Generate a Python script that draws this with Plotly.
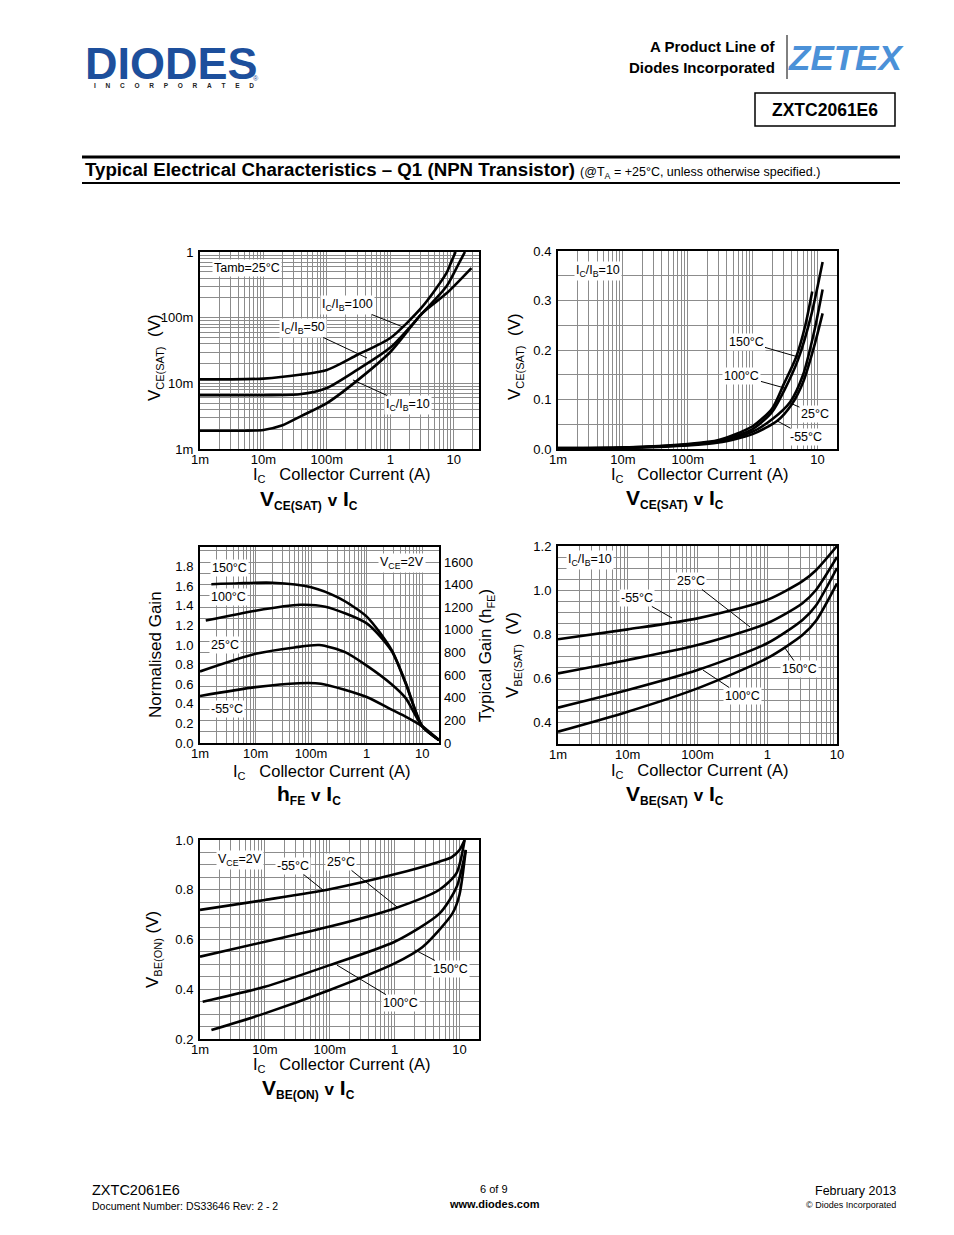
import plotly.graph_objects as go
import numpy as np

# page is drawn inside the default 8px body margin of the html page
OFF = 8
W, H = 954 - OFF, 1235 - OFF
def px(x): return (x - OFF) / W
def py(y): return 1 - (y - OFF) / H

# ---------------- DATA ----------------
# Chart 1: VCE(SAT) v IC, Tamb=25C (log-log)
c1_ic_100 = [0.001, 0.003, 0.01, 0.037, 0.1, 0.3, 1.0, 3.2, 7.7, 9.2, 10.7]
c1_v_100 = [0.0115, 0.0115, 0.0118, 0.0135, 0.016, 0.027, 0.049, 0.147, 0.48, 0.72, 1.0]
c1_ic_50 = [0.001, 0.01, 0.037, 0.1, 0.3, 1.0, 3.2, 7.7, 12.4, 15.0]
c1_v_50 = [0.0066, 0.0066, 0.0068, 0.0085, 0.016, 0.035, 0.117, 0.30, 0.71, 1.0]
c1_ic_10 = [0.001, 0.005, 0.01, 0.02, 0.04, 0.1, 0.3, 1.0, 3.2, 7.7, 19.0]
c1_v_10 = [0.0019, 0.0019, 0.00195, 0.0023, 0.0032, 0.005, 0.011, 0.030, 0.117, 0.235, 0.57]

# Chart 2: VCE(SAT) v IC, IC/IB=10, by temperature
c2_ic_150 = [0.001, 0.01, 0.1, 0.3, 1.0, 2.0, 3.0, 4.7, 6.5, 8.3]
c2_v_150 = [0.002, 0.003, 0.010, 0.018, 0.046, 0.082, 0.13, 0.186, 0.25, 0.318]
c2_ic_100 = [0.001, 0.01, 0.1, 0.3, 1.0, 2.0, 3.2, 5.0, 8.0, 12.0]
c2_v_100 = [0.002, 0.003, 0.009, 0.016, 0.040, 0.075, 0.123, 0.18, 0.27, 0.378]
c2_ic_25 = [0.001, 0.01, 0.1, 0.3, 1.0, 2.0, 3.8, 6.0, 9.0, 12.0]
c2_v_25 = [0.0015, 0.0025, 0.008, 0.015, 0.035, 0.06, 0.095, 0.15, 0.24, 0.322]
c2_ic_m55 = [0.001, 0.01, 0.1, 0.3, 1.0, 2.4, 4.0, 6.0, 9.0, 12.0]
c2_v_m55 = [0.001, 0.002, 0.007, 0.013, 0.030, 0.057, 0.09, 0.135, 0.21, 0.274]

# Chart 3: hFE v IC (normalised gain), VCE=2V
c3_ic_150 = [0.0016, 0.005, 0.02, 0.1, 0.316, 1.0, 2.8, 5.0, 10.0, 20.0]
c3_g_150 = [1.62, 1.63, 1.635, 1.59, 1.48, 1.29, 0.95, 0.62, 0.17, 0.03]
c3_ic_100 = [0.00127, 0.01, 0.063, 0.18, 1.0, 2.8, 5.0, 10.0, 20.0]
c3_g_100 = [1.25, 1.35, 1.41, 1.39, 1.22, 0.94, 0.61, 0.17, 0.03]
c3_ic_25 = [0.001, 0.01, 0.05, 0.14, 0.4, 1.0, 2.8, 5.0, 10.0, 20.0]
c3_g_25 = [0.73, 0.91, 0.975, 1.0, 0.93, 0.79, 0.60, 0.46, 0.17, 0.03]
c3_ic_m55 = [0.001, 0.01, 0.06, 0.15, 1.0, 2.8, 5.0, 10.0, 20.0]
c3_g_m55 = [0.48, 0.57, 0.61, 0.605, 0.47, 0.34, 0.27, 0.17, 0.03]

# Chart 4: VBE(SAT) v IC, IC/IB=10
c4_ic = [0.001, 0.01, 0.1, 1.0, 3.2, 5.0, 10.0]
c4_v_m55 = [0.776, 0.821, 0.871, 0.955, 1.04, 1.09, 1.20]
c4_v_25 = [0.621, 0.682, 0.750, 0.849, 0.94, 1.00, 1.15]
c4_v_100 = [0.465, 0.545, 0.636, 0.758, 0.864, 0.93, 1.10]
c4_v_150 = [0.356, 0.447, 0.553, 0.690, 0.795, 0.86, 1.03]

# Chart 5: VBE(ON) v IC, VCE=2V
c5_ic_m55 = [0.001, 0.01, 0.1, 1.0, 4.9, 7.5, 10.0, 12.0]
c5_v_m55 = [0.719, 0.759, 0.802, 0.862, 0.913, 0.93, 0.96, 1.0]
c5_ic_25 = [0.001, 0.01, 0.1, 1.0, 4.9, 9.0, 12.0]
c5_v_25 = [0.531, 0.591, 0.652, 0.725, 0.80, 0.867, 1.0]
c5_ic_100 = [0.0011, 0.01, 0.1, 1.0, 4.9, 9.0, 12.5]
c5_v_100 = [0.35, 0.41, 0.497, 0.591, 0.704, 0.81, 0.96]
c5_ic_150 = [0.0015, 0.01, 0.1, 1.0, 2.7, 7.8, 10.0, 12.5]
c5_v_150 = [0.236, 0.303, 0.397, 0.504, 0.57, 0.705, 0.78, 0.96]

decade_names = {-3: '1m', -2: '10m', -1: '100m', 0: '1', 1: '10'}

# ---------------- STYLE ----------------
FONT = "Liberation Sans, Arial, sans-serif"
GRID = "#8c8c8c"
TICKF = dict(family=FONT, size=13, color='black')

fig = go.Figure()

def curve(xs, ys, n):
    sfx = '' if n == 1 else str(n)
    fig.add_trace(go.Scatter(x=xs, y=ys, mode='lines',
                             line=dict(color='black', width=2.6, shape='spline', smoothing=0.7),
                             xaxis='x' + sfx, yaxis='y' + sfx,
                             showlegend=False, hoverinfo='skip'))

curve(c1_ic_100, c1_v_100, 1); curve(c1_ic_50, c1_v_50, 1); curve(c1_ic_10, c1_v_10, 1)
curve(c2_ic_150, c2_v_150, 2); curve(c2_ic_100, c2_v_100, 2)
curve(c2_ic_25, c2_v_25, 2); curve(c2_ic_m55, c2_v_m55, 2)
curve(c3_ic_150, c3_g_150, 3); curve(c3_ic_100, c3_g_100, 3)
curve(c3_ic_25, c3_g_25, 3); curve(c3_ic_m55, c3_g_m55, 3)
curve(c4_ic, c4_v_m55, 4); curve(c4_ic, c4_v_25, 4)
curve(c4_ic, c4_v_100, 4); curve(c4_ic, c4_v_150, 4)
curve(c5_ic_m55, c5_v_m55, 5); curve(c5_ic_25, c5_v_25, 5)
curve(c5_ic_100, c5_v_100, 5); curve(c5_ic_150, c5_v_150, 5)

def log_ticks(lo_exp, hi_exp, hi_val):
    major, txt, minor = [], [], []
    for e in range(lo_exp, hi_exp + 1):
        for m in range(1, 10):
            v = m * 10.0 ** e
            if v > hi_val * 1.0001:
                break
            if m == 1:
                major.append(v); txt.append(decade_names[e])
            else:
                minor.append(v)
    return major, txt, minor

def lin_ticks(lo, hi, step, lab_step, fmt, lab_max=None):
    major, txt, minor = [], [], []
    for v in [round(v, 4) for v in np.arange(lo, hi + 1e-9, step)]:
        q = v / lab_step
        if abs(q - round(q)) < 1e-6 and (lab_max is None or v <= lab_max + 1e-9):
            major.append(v); txt.append(fmt.format(v))
        else:
            minor.append(v)
    return major, txt, minor

base = dict(showgrid=True, gridcolor=GRID, gridwidth=1, showline=True, mirror=True,
            linecolor='black', linewidth=2, ticks='', tickfont=TICKF, zeroline=False,
            fixedrange=True, automargin=False)

def grid_minor(vals, show=True):
    return dict(tickvals=vals, showgrid=show, gridcolor=GRID, gridwidth=1, ticks='')

def xax(l, r, hi, anchor):
    major, txt, minor = log_ticks(-3, 1, hi)
    d = dict(base)
    d.update(type='log', range=[-3, np.log10(hi)], domain=[px(l), px(r)], anchor=anchor,
             tickmode='array', tickvals=major, ticktext=txt, minor=grid_minor(minor),
             ticklabelstandoff=-3)
    return d

def yax_lin(t, b, lo, hi, step, lab_step, fmt, anchor, grid=True, lab_max=None):
    major, txt, minor = lin_ticks(lo, hi, step, lab_step, fmt, lab_max)
    d = dict(base)
    d.update(range=[lo, hi], domain=[py(b), py(t)], anchor=anchor, tickmode='array',
             tickvals=major, ticktext=txt, showgrid=grid, minor=grid_minor(minor, grid),
             ticklabelstandoff=2)
    return d

y1major, y1txt, y1minor = log_ticks(-3, 0, 1.0)
y1 = dict(base)
y1.update(type='log', range=[-3, 0], domain=[py(449), py(252)], anchor='x', tickmode='array',
          tickvals=y1major, ticktext=y1txt, minor=grid_minor(y1minor), ticklabelstandoff=2)

y6major, y6txt, y6minor = lin_ticks(0, 1700, 100, 200, '{:.0f}', lab_max=1600)
y6 = dict(overlaying='y3', side='right', anchor='x3', range=[0, 1733], tickmode='array',
          tickvals=y6major, ticktext=y6txt, showgrid=True, gridcolor=GRID, gridwidth=1,
          minor=grid_minor(y6minor), showline=False, ticks='', tickfont=TICKF,
          zeroline=False, fixedrange=True, automargin=False, ticklabelstandoff=4)

fig.update_layout(
    width=W, height=H, autosize=False,
    margin=dict(l=0, r=0, t=0, b=0, pad=0, autoexpand=False),
    paper_bgcolor='white', plot_bgcolor='white',
    xaxis=xax(200, 479, 25.0, 'y'),
    yaxis=y1,
    xaxis2=xax(558, 837, 20.0, 'y2'),
    yaxis2=yax_lin(251, 449, 0, 0.4, 0.05, 0.1, '{:.1f}', 'x2'),
    xaxis3=xax(200, 439, 20.0, 'y3'),
    yaxis3=yax_lin(547, 743, 0, 2.0, 0.2, 0.2, '{:.1f}', 'x3', grid=False, lab_max=1.8),
    xaxis4=xax(558, 837, 10.0, 'y4'),
    yaxis4=yax_lin(546, 744, 0.3, 1.2, 0.05, 0.2, '{:.1f}', 'x4'),
    xaxis5=xax(200, 479, 20.0, 'y5'),
    yaxis5=yax_lin(840, 1039, 0.2, 1.0, 0.05, 0.2, '{:.1f}', 'x5'),
    yaxis6=y6,
)

# trace so that the right-hand gain axis is drawn
fig.add_trace(go.Scatter(x=[None], y=[None], xaxis='x3', yaxis='y6', showlegend=False,
                         hoverinfo='skip'))

ann = []
def text(t, x, y, size=12, family=FONT, color='black', xanchor='center', yanchor='middle',
         angle=0, bg=None):
    a = dict(text=t, x=px(x), y=py(y), xref='paper', yref='paper', showarrow=False,
             font=dict(family=family, size=size, color=color), xanchor=xanchor,
             yanchor=yanchor, textangle=angle)
    if bg:
        a.update(bgcolor=bg, borderpad=1)
    ann.append(a)

def leader(t, n, x, y, ax, ay, size=12.5):
    sfx = '' if n == 1 else str(n)
    ann.append(dict(text=t, x=x, y=y, xref='x' + sfx, yref='y' + sfx, showarrow=True,
                    arrowhead=0, arrowwidth=1, arrowcolor='black', ax=ax, ay=ay,
                    bgcolor='white', borderpad=1, standoff=0,
                    font=dict(family=FONT, size=size, color='black')))

def sub(s, size):
    return '<sub><span style="font-size:%dpx">%s</span></sub>' % (size, s)

LS = 12.5
# Chart 1 labels
text('Tamb=25°C', 247, 268, LS, bg='white')
leader('I<sub>C</sub>/I<sub>B</sub>=100', 1, 0.199, -1.142, -55, -22)
leader('I<sub>C</sub>/I<sub>B</sub>=50', 1, -0.368, -1.614, -64, -30)
leader('I<sub>C</sub>/I<sub>B</sub>=10', 1, -0.589, -1.949, 55, 25)
# Chart 2 labels
text('I<sub>C</sub>/I<sub>B</sub>=10', 598, 271, LS, bg='white')
leader('150°C', 2, 0.70, 0.186, -52, -15)
leader('100°C', 2, 0.499, 0.123, -43, -12)
leader('25°C', 2, 0.576, 0.093, 25, 11)
leader('-55°C', 2, 0.376, 0.057, 29, 16)
# Chart 3 labels
text('150°C', 229, 568, LS, bg='white')
text('100°C', 228, 597, LS, bg='white')
text('25°C', 225, 645, LS, bg='white')
text('-55°C', 227, 709, LS, bg='white')
text('V<sub>CE</sub>=2V', 402, 563, LS, bg='white')
# Chart 4 labels
text('I<sub>C</sub>/I<sub>B</sub>=10', 590, 560, LS, bg='white')
leader('25°C', 4, -0.247, 0.832, -59, -46)
leader('-55°C', 4, -1.366, 0.873, -35, -20)
leader('100°C', 4, -0.921, 0.636, 39, 26)
leader('150°C', 4, 0.254, 0.736, 15, 21)
# Chart 5 labels
text('V<sub>CE</sub>=2V', 240, 860, LS, bg='white')
leader('-55°C', 5, -1.104, 0.799, -30, -24)
leader('25°C', 5, 0.037, 0.731, -56, -45)
leader('150°C', 5, 0.314, 0.558, 36, 19)
leader('100°C', 5, -0.888, 0.497, 63, 38)

# axis titles
AX = 16.5
text('V' + sub('CE(SAT)', 11) + '  (V)', 155, 358, 17, angle=-90)
text('V' + sub('CE(SAT)', 11) + '  (V)', 516, 357, 17, angle=-90)
text('Normalised Gain', 155, 655, 17, angle=-90)
text('Typical Gain (h' + sub('FE', 11) + ')', 486, 655, 17, angle=-90)
text('V' + sub('BE(SAT)', 11) + '  (V)', 513, 655, 17, angle=-90)
text('V' + sub('BE(ON)', 11) + ' (V)', 153, 950, 17, angle=-90)

xt = 'I' + sub('C', 11) + '   Collector Current (A)'
text(xt, 342, 475, AX)
text(xt, 700, 475, AX)
text(xt, 322, 772, AX)
text(xt, 700, 771, AX)
text(xt, 342, 1065, AX)

def ctitle(main, s, x, y):
    t = ('<b>' + main + sub(s, 12) + ' <span style="font-size:17px">v</span> '
         'I' + sub('C', 12) + '</b>')
    text(t, x, y, 21)
ctitle('V', 'CE(SAT)', 309, 500)
ctitle('V', 'CE(SAT)', 675, 499)
ctitle('h', 'FE', 309, 795)
ctitle('V', 'BE(SAT)', 675, 795)
ctitle('V', 'BE(ON)', 308, 1089)

# ---------------- header ----------------
BLUE = '#1d4f9c'
text('<b>DIODES</b>', 171, 63, 45, family="Liberation Sans, Arial, sans-serif", color=BLUE)
sp = '\u2003\u2002'
text('<b>' + sp.join('INCORPORATED') + '</b>', 92, 86, 6.5, color='#222222', xanchor='left')
text('®', 256, 78, 7, color=BLUE)

text('<b>A Product Line of</b>', 777, 47, 15, xanchor='right')
text('<b>Diodes Incorporated</b>', 777, 67, 15, xanchor='right')
text('<b><i>ZETEX</i></b>', 846, 57, 35, color='#4b91d8')
text('<b>ZXTC2061E6</b>', 825, 110, 17.5)

text('<b>Typical Electrical Characteristics – Q1 (NPN Transistor)</b> '
     '<span style="font-size:12.5px">(@T<sub>A</sub> = +25°C, unless otherwise specified.)</span>',
     83, 170, 18.7, xanchor='left')

# ---------------- footer ----------------
text('ZXTC2061E6', 90, 1190, 14.5, xanchor='left')
text('Document Number: DS33646 Rev: 2 - 2', 90, 1206, 10.5, xanchor='left')
text('6 of 9', 494, 1189, 11)
text('<b>www.diodes.com</b>', 494, 1204, 11)
text('February 2013', 898, 1191, 12.5, xanchor='right')
text('© Diodes Incorporated', 898, 1205, 9, xanchor='right')

fig.update_layout(annotations=ann)

shapes = [
    dict(type='line', xref='paper', yref='paper', x0=px(92), x1=px(246), y0=py(64), y1=py(64),
         line=dict(color='white', width=2.5)),
    dict(type='line', xref='paper', yref='paper', x0=px(787), x1=px(787), y0=py(35), y1=py(79),
         line=dict(color='black', width=1)),
    dict(type='rect', xref='paper', yref='paper', x0=px(755), x1=px(895), y0=py(126), y1=py(93),
         line=dict(color='black', width=1.5)),
    dict(type='line', xref='paper', yref='paper', x0=px(82), x1=px(900), y0=py(157), y1=py(157),
         line=dict(color='black', width=3)),
    dict(type='line', xref='paper', yref='paper', x0=px(82), x1=px(900), y0=py(183), y1=py(183),
         line=dict(color='black', width=2)),
]
fig.update_layout(shapes=shapes)

fig.write_html("out.html")
